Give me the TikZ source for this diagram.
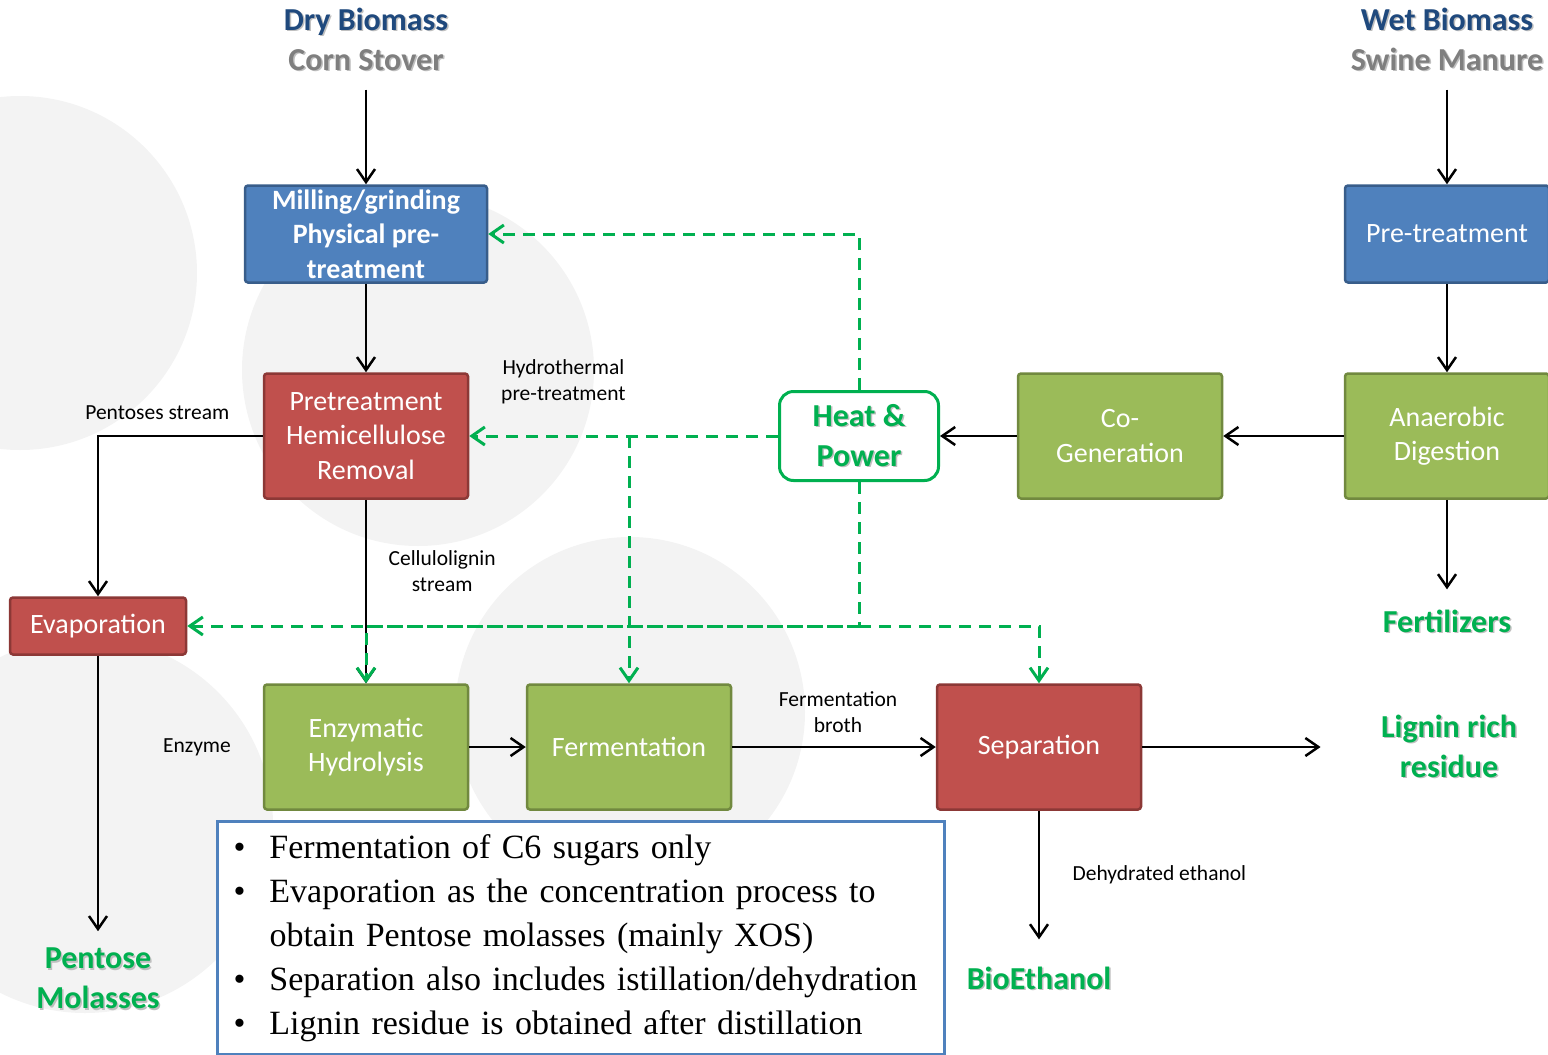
\documentclass[tikz,border=0pt]{standalone}
\usepackage{fontspec}
\setmainfont{Carlito}
\newfontfamily\notasfont{Liberation Serif}
\usetikzlibrary{arrows.meta}

\definecolor{azulfundo}{HTML}{4F81BD}
\definecolor{azulborda}{HTML}{385D8A}
\definecolor{vermfundo}{HTML}{C0504D}
\definecolor{vermborda}{HTML}{8C3836}
\definecolor{verdefundo}{HTML}{9BBB59}
\definecolor{verdeborda}{HTML}{71893F}
\definecolor{verdeenergia}{HTML}{00B050}
\definecolor{azultitulo}{HTML}{1F497D}
\definecolor{cinzatitulo}{HTML}{7F7F7F}
\definecolor{fundocirc}{HTML}{F3F3F3}

\newcommand{\sombra}[1]{\leavevmode\rlap{\kern1.5pt\raisebox{-1.5pt}{\textcolor{black!25}{#1}}}#1}

\tikzset{%
    >={Straight Barb[length=13pt, width=18pt]},
    caixa/.style    = {rectangle, rounded corners=3pt, line width=2.5pt,
                       minimum width=204pt, minimum height=125pt,
                       text centered, align=center, text=white,
                       font=\fontsize{28}{34.5}\selectfont},
    azul/.style     = {caixa, fill=azulfundo, draw=azulborda},
    vermelho/.style = {caixa, fill=vermfundo, draw=vermborda},
    verde/.style    = {caixa, fill=verdefundo, draw=verdeborda},
    calor/.style    = {rectangle, rounded corners=14pt, line width=3pt,
                       draw=verdeenergia, fill=white, text=verdeenergia,
                       minimum width=159pt, minimum height=89pt, align=center,
                       font=\bfseries\fontsize{32}{40}\selectfont},
    titulo/.style   = {align=center, font=\bfseries\fontsize{32}{40}\selectfont},
    produto/.style  = {align=center, text=verdeenergia,
                       font=\bfseries\fontsize{32}{40}\selectfont},
    rotulo/.style   = {align=center, font=\fontsize{21.5}{26}\selectfont},
    notas/.style    = {draw=azulfundo, line width=3pt, fill=white,
                       text width=695pt, inner xsep=16pt, inner ysep=6.5pt,
                       align=left, font=\notasfont\fontsize{34}{44}\selectfont},
    fluxo/.style    = {->, line width=2.5pt},
    energia/.style  = {->, draw=verdeenergia, line width=3pt,
                       dash pattern=on 12pt off 8pt},
}

\begin{document}
\begin{tikzpicture}[x=1pt, y=-1pt]
    \useasboundingbox (0,0) rectangle (1548,1055);
    \fill[fundocirc] (20,273)  circle (177pt);
    \fill[fundocirc] (418,370) circle (176pt);
    \fill[fundocirc] (630,712) circle (175pt);
    \fill[fundocirc] (85,825)  circle (188pt);

    \node (moagem)  [azul, font=\bfseries\fontsize{28}{34.5}\selectfont,
                     minimum width=242pt, minimum height=97pt, inner ysep=2pt]
                     at (366,234) {Milling/grinding\\Physical pre-\\treatment};
    \node (seca)    [titulo, node distance=194pt, above of=moagem]
                     {\textcolor{azultitulo}{\sombra{Dry Biomass}}\\\textcolor{cinzatitulo}{\sombra{Corn Stover}}};
    \node (pretrat) [vermelho, node distance=202pt, below of=moagem] {Pretreatment\\Hemicellulose\\Removal};
    \node (enzim)   [verde, node distance=311pt, below of=pretrat] {Enzymatic\\Hydrolysis};
    \node (ferment) [verde, node distance=263pt, right of=enzim] {Fermentation};
    \node (separa)  [vermelho, node distance=410pt, right of=ferment] {Separation};
    \node (evapora) [vermelho, node distance=268pt, left of=enzim, yshift=121pt,
                     minimum width=176pt, minimum height=57pt] {Evaporation};
    \node (calor)   [calor, node distance=493pt, right of=pretrat] {\sombra{Heat \&}\\\sombra{Power}};
    \node (cogera)  [verde, node distance=261pt, right of=calor] {Co-\\Generation};
    \node (anaer)   [verde, node distance=327pt, right of=cogera] {Anaerobic\\Digestion};
    \node (pretu)   [azul, node distance=202pt, above of=anaer, minimum height=97pt] {Pre-treatment};
    \node (umida)   [titulo, node distance=194pt, above of=pretu]
                     {\textcolor{azultitulo}{\sombra{Wet Biomass}}\\\textcolor{cinzatitulo}{\sombra{Swine Manure}}};
    \node (fertil)  [produto, node distance=186pt, below of=anaer] {\sombra{Fertilizers}};
    \node (lignina) [produto, node distance=410pt, right of=separa] {\sombra{Lignin rich}\\\sombra{residue}};
    \node (bioet)   [produto, node distance=232pt, below of=separa] {\sombra{BioEthanol}};
    \node (pentose) [produto, node distance=353pt, below of=evapora] {\sombra{Pentose}\\\sombra{Molasses}};
    \node (enzima)  [rotulo, node distance=169pt, left of=enzim] {Enzyme};
    \node (notas)   [notas, anchor=north west] at (216,820) {%
        \begin{tabular}{@{}p{36pt}@{}l@{}}
        \textbullet & Fermentation of C6 sugars only\\
        \textbullet & Evaporation as the concentration process to\\
                    & obtain Pentose molasses (mainly XOS)\\
        \textbullet & Separation also includes istillation/dehydration\\
        \textbullet & Lignin residue is obtained after distillation
        \end{tabular}};

    \draw[fluxo, shorten <=14pt] (seca)  -- (moagem);
    \draw[fluxo, shorten <=14pt] (umida) -- (pretu);
    \draw[fluxo] (moagem)  -- (pretrat);
    \draw[fluxo] (pretrat) -- node[rotulo, right=18pt, pos=0.39] {Cellulolignin\\stream} (enzim);
    \draw[fluxo] (pretrat.west) -| node[rotulo, above=12pt, pos=0.32] {Pentoses stream} (evapora.north);
    \draw[fluxo, shorten >=13pt] (evapora) -- (pentose);
    \draw[fluxo] (enzim)   -- (ferment);
    \draw[fluxo] (ferment) -- node[rotulo, above=10pt, pos=0.52] {Fermentation\\broth} (separa);
    \draw[fluxo, shorten >=24pt] (separa) -- node[rotulo, right=29pt, pos=0.42] {Dehydrated ethanol} (bioet);
    \draw[fluxo, shorten >=57pt] (separa) -- (lignina);
    \draw[fluxo] (pretu)  -- (anaer);
    \draw[fluxo] (anaer)  -- (cogera);
    \draw[fluxo] (cogera) -- (calor);
    \draw[fluxo, shorten >=17pt] (anaer) -- (fertil);

    \coordinate (ramo)  at (ferment.north |- calor.west);
    \coordinate (junta) at (calor.south |- evapora.east);
    \draw[energia] (calor.north) |- (moagem.east);
    \draw[energia] (calor.west) -- node[rotulo, above=27pt, pos=0.695] {Hydrothermal\\pre-treatment} (pretrat.east);
    \draw[energia] (ramo) -- (ferment.north);
    \draw[energia] (calor.south) |- (evapora.east);
    \draw[energia] (junta) -| (separa.north);
    \draw[energia] (junta) -| (enzim.north);
\end{tikzpicture}
\end{document}
